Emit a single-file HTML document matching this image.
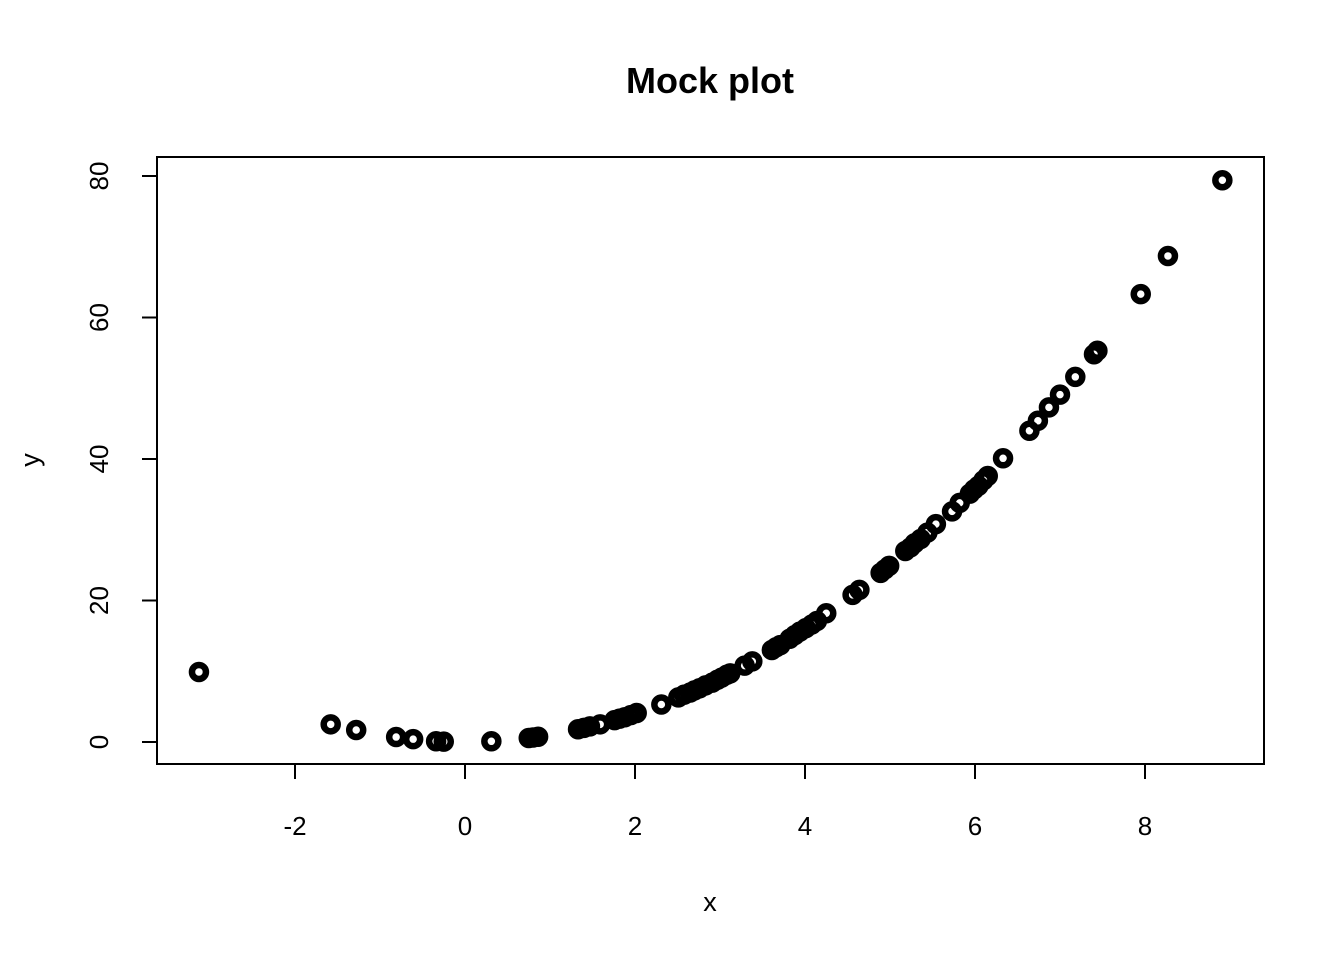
<!DOCTYPE html>
<html><head><meta charset="utf-8"><style>
body{margin:0;background:#fff;}
svg text{font-family:"Liberation Sans",Arial,sans-serif;fill:#000;}
</style></head><body>
<svg width="1344" height="960">
<text x="710" y="93" font-size="36" font-weight="bold" text-anchor="middle">Mock plot</text>
<rect x="157" y="157" width="1107" height="607" fill="none" stroke="#000" stroke-width="2"/>
<g id="xaxis"></g>
<g id="yaxis"></g>
<text x="710" y="911" font-size="27" text-anchor="middle">x</text>
<text transform="translate(39,460) rotate(-90)" font-size="27" text-anchor="middle">y</text>
<g id="pts"></g>
</svg>
<script>
const xs=[-3.13,-1.58,-1.28,-0.81,-0.61,-0.34,-0.25,0.31,0.75,0.80,0.86,1.33,1.40,1.47,1.59,1.76,1.82,1.88,1.95,2.02,2.31,2.51,2.58,2.65,2.70,2.76,2.83,2.91,2.97,3.02,3.08,3.12,3.29,3.38,3.61,3.66,3.71,3.82,3.88,3.94,4.01,4.08,4.14,4.25,4.56,4.64,4.89,4.94,4.99,5.18,5.24,5.29,5.36,5.44,5.54,5.73,5.82,5.94,5.99,6.04,6.10,6.15,6.33,6.64,6.74,6.87,7.00,7.18,7.40,7.44,7.95,8.27,8.91];
const ys=[9.9,2.5,1.7,0.7,0.4,0.1,0.06,0.1,0.56,0.64,0.74,1.8,2.0,2.2,2.5,3.1,3.3,3.5,3.8,4.1,5.3,6.3,6.7,7.0,7.3,7.6,8.0,8.4,8.8,9.1,9.5,9.7,10.8,11.4,13.0,13.4,13.7,14.6,15.1,15.6,16.1,16.6,17.1,18.2,20.8,21.5,23.9,24.4,24.9,27.0,27.5,28.1,28.7,29.6,30.8,32.6,33.8,35.1,35.7,36.2,37.0,37.6,40.1,44.0,45.4,47.3,49.1,51.6,54.8,55.3,63.3,68.7,79.4];
const xTicks=[-2,0,2,4,6,8];
const yTicks=[0,20,40,60,80];
const sx=v=>465+v*85, sy=v=>742-v*7.075;
const NS='http://www.w3.org/2000/svg';
function mk(t,a,p){const e=document.createElementNS(NS,t);for(const k in a)e.setAttribute(k,a[k]);p.appendChild(e);return e;}
const xa=document.getElementById('xaxis'),ya=document.getElementById('yaxis'),pg=document.getElementById('pts');
mk('line',{x1:sx(-2),x2:sx(8),y1:764,y2:764,stroke:'#000','stroke-width':2},xa);
xTicks.forEach(t=>{const l=mk('line',{x1:sx(t),x2:sx(t),y1:764,y2:779,stroke:'#000','stroke-width':2},xa);


const tx=mk('text',{x:sx(t),y:835,'font-size':26,'text-anchor':'middle'},xa);tx.textContent=t;

});
mk('line',{x1:157,x2:157,y1:sy(0),y2:sy(80),stroke:'#000','stroke-width':2},ya);
yTicks.forEach(t=>{const l=mk('line',{x1:142,x2:157,y1:sy(t),y2:sy(t),stroke:'#000','stroke-width':2},ya);


const tx=mk('text',{transform:`translate(108,${sy(t)}) rotate(-90)`,'font-size':26,'text-anchor':'middle'},ya);tx.textContent=t;

});
xs.forEach((x,i)=>{const c=mk('circle',{cx:sx(x),cy:sy(ys[i]),r:7,fill:'none',stroke:'#000','stroke-width':6.5},pg);

});
</script>
</body></html>
